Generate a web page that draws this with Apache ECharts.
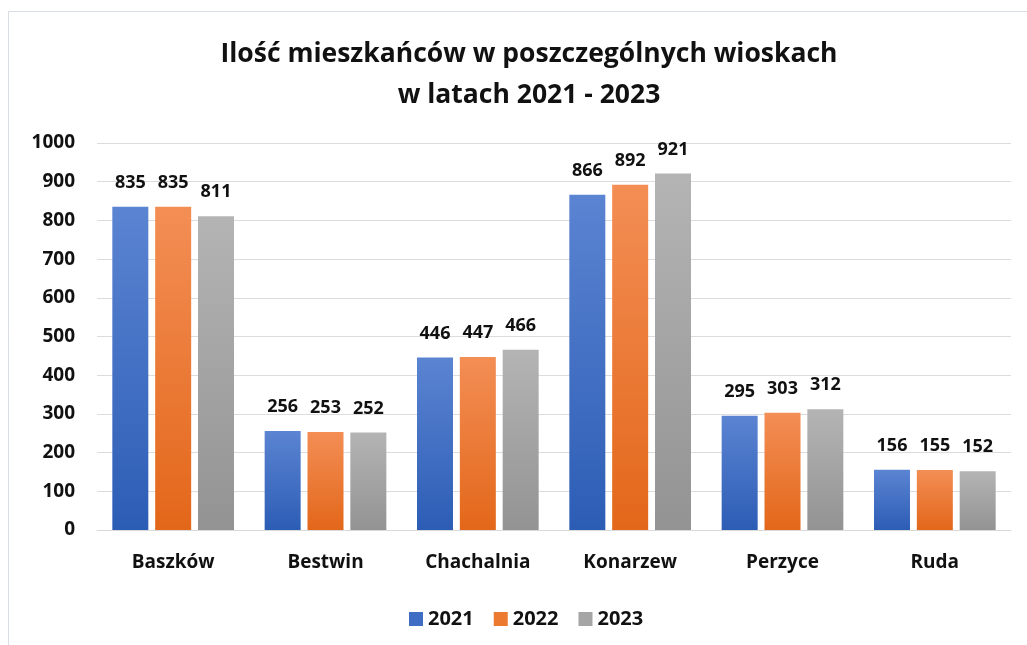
<!DOCTYPE html>
<html><head><meta charset="utf-8">
<script src="https://cdn.jsdelivr.net/npm/echarts@6/dist/echarts.min.js"></script>
<style>html,body{margin:0;padding:0;background:#fff}#c{width:1027px;height:645px}</style>
</head><body><div id="c"></div>
<script>
const categories = ['Baszków','Bestwin','Chachalnia','Konarzew','Perzyce','Ruda'];
const seriesNames = ['2021','2022','2023'];
const v2021 = [835,256,446,866,295,156];
const v2022 = [835,253,447,892,303,155];
const v2023 = [811,252,466,921,312,152];
const yTicks = [0,100,200,300,400,500,600,700,800,900,1000];

const FONT = '"Open Sans", "Noto Sans", sans-serif';
function grad(top, bottom){
  return new echarts.graphic.LinearGradient(0,0,0,1,[{offset:0,color:top},{offset:1,color:bottom}]);
}
const colors = [grad('#5B84D2','#2C5DB5'), grad('#F38E55','#E3671A'), grad('#B4B4B4','#939393')];
const legendColors = ['#3F6EC4','#EC7A30','#A5A5A5'];
const data = [v2021, v2022, v2023];

const chart = echarts.init(document.getElementById('c'));
chart.setOption({
  animation:false,
  backgroundColor:'#fff',
  graphic:[{type:'rect',shape:{x:8.5,y:11.5,width:1030,height:650},style:{fill:'none',stroke:'#D9DEE5',lineWidth:1},silent:true}],
  title:{
    text:'Ilość mieszkańców w poszczególnych wioskach\nw latach 2021 - 2023',
    left:524, top:29, textAlign:'center',
    textStyle:{fontFamily:FONT,fontSize:26.5,fontWeight:'bold',color:'#111',lineHeight:41}
  },
  legend:{
    bottom:16, left:409, itemWidth:14, itemHeight:14, itemGap:20, icon:'rect', padding:0,
    textStyle:{fontFamily:FONT,fontSize:20,fontWeight:'bold',color:'#111'},
    data: seriesNames.map((n,i)=>({name:n,itemStyle:{color:legendColors[i]}}))
  },
  grid:{left:97,right:16,top:143,bottom:115,containLabel:false},
  xAxis:{
    type:'category', data:categories,
    axisLine:{lineStyle:{color:'#D9D9D9',width:1}}, axisTick:{show:false},
    axisLabel:{fontFamily:FONT,fontSize:19,fontWeight:'bold',color:'#111',margin:23}
  },
  yAxis:{
    type:'value', min:0, max:1000, interval:100,
    axisLine:{show:false}, axisTick:{show:false},
    splitLine:{lineStyle:{color:'#DCDCDC',width:1}},
    axisLabel:{fontFamily:FONT,fontSize:19,fontWeight:'bold',color:'#111',margin:22,
      formatter:(v)=> yTicks.includes(v)? String(v):''}
  },
  series: seriesNames.map((n,i)=>({
    name:n, type:'bar', data:data[i], barWidth:36, barGap:'19%',
    itemStyle:{color:colors[i]},
    label:{show:true,position:'top',distance:15,fontFamily:FONT,fontSize:18,fontWeight:'bold',color:'#111'}
  }))
});
</script></body></html>
